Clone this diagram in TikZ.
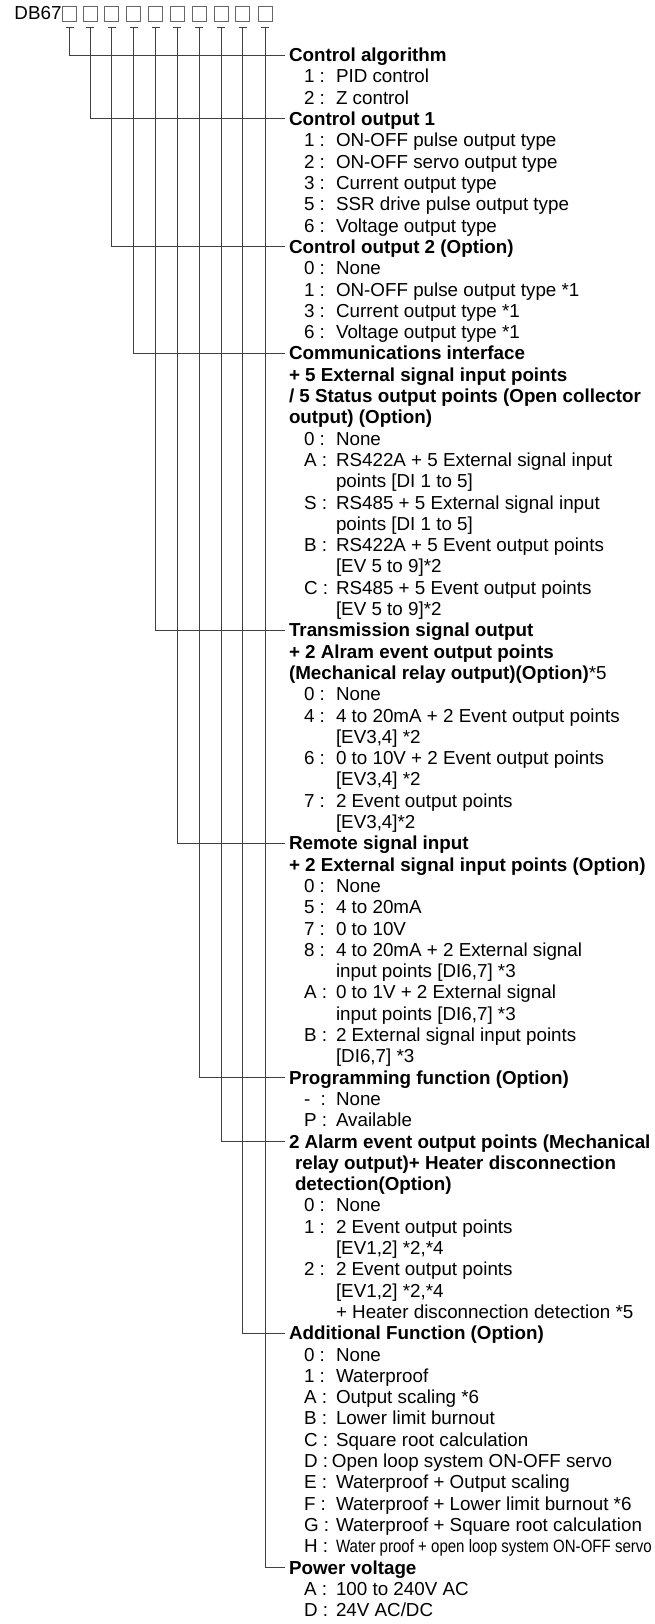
\documentclass[tikz,border=0pt]{standalone}
\usepackage{fontspec}
\usepackage{graphicx}
\setmainfont{Liberation Sans}
\usetikzlibrary{positioning}

\begin{document}
\begin{tikzpicture}[x=1pt, y=-1pt,
		every node/.style={font=\fontsize{18.8}{21.3}\selectfont, inner sep=0pt, outer sep=0pt},
		head/.style={font=\fontsize{18.8}{21.3}\selectfont\bfseries, inner xsep=4pt, inner ysep=0pt},
		slot/.style={draw=black!60, line width=0.8pt, minimum width=14pt, minimum height=15pt},
		wire/.style={draw=black!75, line width=0.9pt}]
				\useasboundingbox (0, 0) rectangle (654, 1624);

				% model code with its ten slots
				\node (Code) [anchor=base east] at (61.5, 19.5) {DB67};
				\node (S1) [slot] at (69.5, 13.5) {};
				\node (S2) [slot] at (90, 13.5) {};
				\node (S3) [slot] at (111.5, 13.5) {};
				\node (S4) [slot] at (133.5, 13.5) {};
				\node (S5) [slot] at (155.5, 13.5) {};
				\node (S6) [slot] at (177, 13.5) {};
				\node (S7) [slot] at (199, 13.5) {};
				\node (S8) [slot] at (221, 13.5) {};
				\node (S9) [slot] at (242.5, 13.5) {};
				\node (S10) [slot] at (265, 13.5) {};

				\coordinate (T1) at (69.5, 27.5);
				\coordinate (T2) at (90, 27.5);
				\coordinate (T3) at (111.5, 27.5);
				\coordinate (T4) at (133.5, 27.5);
				\coordinate (T5) at (155.5, 27.5);
				\coordinate (T6) at (177, 27.5);
				\coordinate (T7) at (199, 27.5);
				\coordinate (T8) at (221, 27.5);
				\coordinate (T9) at (242.5, 27.5);
				\coordinate (T10) at (265, 27.5);

				% 1st digit
				\node (Algo) [head, anchor=base west] at (285, 61.7) {\begin{tabular}[t]{@{}l@{}}Control algorithm\end{tabular}};
				\node (AlgoList) [below right=0pt and 19pt of Algo.south west] {\begin{tabular}[t]{@{}p{32pt}@{}l@{}}
					1 : & PID control\\
					2 : & Z control
				\end{tabular}};

				% 2nd digit
				\node (Out1) [head, below right=0pt and -19pt of AlgoList.south west] {\begin{tabular}[t]{@{}l@{}}Control output 1\end{tabular}};
				\node (Out1List) [below right=0pt and 19pt of Out1.south west] {\begin{tabular}[t]{@{}p{32pt}@{}l@{}}
					1 : & ON-OFF pulse output type\\
					2 : & ON-OFF servo output type\\
					3 : & Current output type\\
					5 : & SSR drive pulse output type\\
					6 : & Voltage output type
				\end{tabular}};

				% 3rd digit
				\node (Out2) [head, below right=0pt and -19pt of Out1List.south west] {\begin{tabular}[t]{@{}l@{}}Control output 2 (Option)\end{tabular}};
				\node (Out2List) [below right=0pt and 19pt of Out2.south west] {\begin{tabular}[t]{@{}p{32pt}@{}l@{}}
					0 : & None\\
					1 : & ON-OFF pulse output type *1\\
					3 : & Current output type *1\\
					6 : & Voltage output type *1
				\end{tabular}};

				% 4th digit
				\node (Comm) [head, below right=0pt and -19pt of Out2List.south west] {\begin{tabular}[t]{@{}l@{}}
					Communications interface\\
					+ 5 External signal input points\\
					/ 5 Status output points (Open collector\\
					output) (Option)
				\end{tabular}};
				\node (CommList) [below right=0pt and 19pt of Comm.south west] {\begin{tabular}[t]{@{}p{32pt}@{}l@{}}
					0 : & None\\
					A : & RS422A + 5 External signal input\\
					& points [DI 1 to 5]\\
					S : & RS485 + 5 External signal input\\
					& points [DI 1 to 5]\\
					B : & RS422A + 5 Event output points\\
					& [EV 5 to 9]*2\\
					C : & RS485 + 5 Event output points\\
					& [EV 5 to 9]*2
				\end{tabular}};

				% 5th digit
				\node (Trans) [head, below right=0pt and -19pt of CommList.south west] {\begin{tabular}[t]{@{}l@{}}
					Transmission signal output\\
					+ 2 Alram event output points\\
					(Mechanical relay output)(Option){\mdseries *5}
				\end{tabular}};
				\node (TransList) [below right=0pt and 19pt of Trans.south west] {\begin{tabular}[t]{@{}p{32pt}@{}l@{}}
					0 : & None\\
					4 : & 4 to 20mA + 2 Event output points\\
					& [EV3,4] *2\\
					6 : & 0 to 10V + 2 Event output points\\
					& [EV3,4] *2\\
					7 : & 2 Event output points\\
					& [EV3,4]*2
				\end{tabular}};

				% 6th digit
				\node (Remote) [head, below right=0pt and -19pt of TransList.south west] {\begin{tabular}[t]{@{}l@{}}
					Remote signal input\\
					+ 2 External signal input points (Option)
				\end{tabular}};
				\node (RemoteList) [below right=0pt and 19pt of Remote.south west] {\begin{tabular}[t]{@{}p{32pt}@{}l@{}}
					0 : & None\\
					5 : & 4 to 20mA\\
					7 : & 0 to 10V\\
					8 : & 4 to 20mA + 2 External signal\\
					& input points [DI6,7] *3\\
					A : & 0 to 1V + 2 External signal\\
					& input points [DI6,7] *3\\
					B : & 2 External signal input points\\
					& [DI6,7] *3
				\end{tabular}};

				% 7th digit
				\node (Prog) [head, below right=0pt and -19pt of RemoteList.south west] {\begin{tabular}[t]{@{}l@{}}Programming function (Option)\end{tabular}};
				\node (ProgList) [below right=0pt and 19pt of Prog.south west] {\begin{tabular}[t]{@{}p{32pt}@{}l@{}}
					- \ : & None\\
					P : & Available
				\end{tabular}};

				% 8th digit
				\node (Alarm) [head, below right=0pt and -19pt of ProgList.south west] {\begin{tabular}[t]{@{}l@{}}
					2 Alarm event output points (Mechanical\\
					\hspace*{6pt}relay output)+ Heater disconnection\\
					\hspace*{6pt}detection(Option)
				\end{tabular}};
				\node (AlarmList) [below right=0pt and 19pt of Alarm.south west] {\begin{tabular}[t]{@{}p{32pt}@{}l@{}}
					0 : & None\\
					1 : & 2 Event output points\\
					& [EV1,2] *2,*4\\
					2 : & 2 Event output points\\
					& [EV1,2] *2,*4\\
					& + Heater disconnection detection *5
				\end{tabular}};

				% 9th digit
				\node (Addl) [head, below right=0pt and -19pt of AlarmList.south west] {\begin{tabular}[t]{@{}l@{}}Additional Function (Option)\end{tabular}};
				\node (AddlList) [below right=0pt and 19pt of Addl.south west] {\begin{tabular}[t]{@{}p{32pt}@{}l@{}}
					0 : & None\\
					1 : & Waterproof\\
					A : & Output scaling *6\\
					B : & Lower limit burnout\\
					C : & Square root calculation\\
					D : & \hspace*{-4pt}Open loop system ON-OFF servo\\
					E : & Waterproof + Output scaling\\
					F : & Waterproof + Lower limit burnout *6\\
					G : & Waterproof + Square root calculation\\
					H : & \scalebox{0.8}[0.95]{Water proof + open loop system ON-OFF servo}
				\end{tabular}};

				% 10th digit
				\node (Power) [head, below right=0pt and -19pt of AddlList.south west] {\begin{tabular}[t]{@{}l@{}}Power voltage\end{tabular}};
				\node (PowerList) [below right=0pt and 19pt of Power.south west] {\begin{tabular}[t]{@{}p{32pt}@{}l@{}}
					A : & 100 to 240V AC\\
					D : & 24V AC/DC
				\end{tabular}};

				% ticks and branches
				\draw [wire] ([xshift=-4pt]T1) -- ([xshift=4pt]T1) (T1) |- ([yshift=6.7pt]Algo.base west);
				\draw [wire] ([xshift=-4pt]T2) -- ([xshift=4pt]T2) (T2) |- ([yshift=6.7pt]Out1.base west);
				\draw [wire] ([xshift=-4pt]T3) -- ([xshift=4pt]T3) (T3) |- ([yshift=6.7pt]Out2.base west);
				\draw [wire] ([xshift=-4pt]T4) -- ([xshift=4pt]T4) (T4) |- ([yshift=6.7pt]Comm.base west);
				\draw [wire] ([xshift=-4pt]T5) -- ([xshift=4pt]T5) (T5) |- ([yshift=6.7pt]Trans.base west);
				\draw [wire] ([xshift=-4pt]T6) -- ([xshift=4pt]T6) (T6) |- ([yshift=6.7pt]Remote.base west);
				\draw [wire] ([xshift=-4pt]T7) -- ([xshift=4pt]T7) (T7) |- ([yshift=6.7pt]Prog.base west);
				\draw [wire] ([xshift=-4pt]T8) -- ([xshift=4pt]T8) (T8) |- ([yshift=6.7pt]Alarm.base west);
				\draw [wire] ([xshift=-4pt]T9) -- ([xshift=4pt]T9) (T9) |- ([yshift=6.7pt]Addl.base west);
				\draw [wire] ([xshift=-4pt]T10) -- ([xshift=4pt]T10) (T10) |- ([yshift=6.7pt]Power.base west);
			\end{tikzpicture}
\end{document}
